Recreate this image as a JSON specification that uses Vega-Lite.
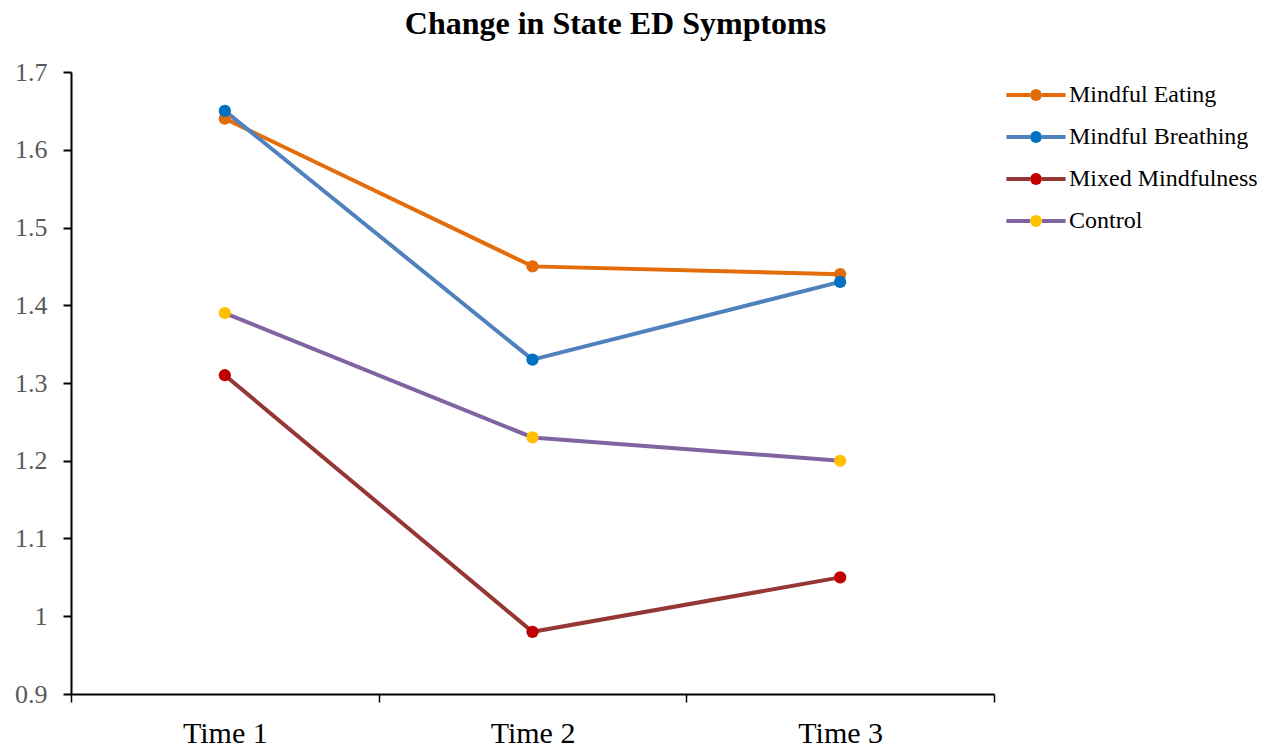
{
  "$schema": "https://vega.github.io/schema/vega-lite/v6.json",
  "width": 923,
  "height": 622,
  "autosize": "none",
  "padding": {"left": 71, "top": 72, "right": 267, "bottom": 58},
  "background": "white",
  "title": {
    "text": "Change in State ED Symptoms",
    "font": "Liberation Serif",
    "fontSize": 32,
    "fontWeight": "bold",
    "color": "black",
    "anchor": "middle",
    "frame": "group",
    "dx": 83,
    "offset": 18
  },
  "config": {
    "view": {"stroke": null},
    "font": "Liberation Serif"
  },
  "data": {
    "values": [
      {"group": "Mindful Eating", "time": "Time 1", "value": 1.64},
      {"group": "Mindful Eating", "time": "Time 2", "value": 1.45},
      {"group": "Mindful Eating", "time": "Time 3", "value": 1.44},
      {"group": "Mindful Breathing", "time": "Time 1", "value": 1.65},
      {"group": "Mindful Breathing", "time": "Time 2", "value": 1.33},
      {"group": "Mindful Breathing", "time": "Time 3", "value": 1.43},
      {"group": "Mixed Mindfulness", "time": "Time 1", "value": 1.31},
      {"group": "Mixed Mindfulness", "time": "Time 2", "value": 0.98},
      {"group": "Mixed Mindfulness", "time": "Time 3", "value": 1.05},
      {"group": "Control", "time": "Time 1", "value": 1.39},
      {"group": "Control", "time": "Time 2", "value": 1.23},
      {"group": "Control", "time": "Time 3", "value": 1.2}
    ]
  },
  "encoding": {
    "x": {
      "field": "time",
      "type": "nominal",
      "scale": {"type": "band", "paddingInner": 0, "paddingOuter": 0},
      "axis": {
        "title": null,
        "labelAngle": 0,
        "labelFont": "Liberation Serif",
        "labelFontSize": 30,
        "labelColor": "black",
        "labelPadding": 16,
        "tickBand": "extent",
        "tickSize": 8,
        "tickColor": "black",
        "tickWidth": 1.5,
        "domainColor": "black",
        "domainWidth": 2,
        "grid": false
      }
    },
    "y": {
      "field": "value",
      "type": "quantitative",
      "scale": {"domain": [0.9, 1.7], "nice": false, "zero": false},
      "axis": {
        "title": null,
        "values": [0.9, 1.0, 1.1, 1.2, 1.3, 1.4, 1.5, 1.6, 1.7],
        "labelExpr": "datum.value == 1 ? '1' : format(datum.value, '.1f')",
        "labelFont": "Liberation Serif",
        "labelFontSize": 26,
        "labelColor": "#595959",
        "labelPadding": 16,
        "tickSize": 8,
        "tickColor": "black",
        "tickWidth": 2,
        "domainColor": "black",
        "domainWidth": 2,
        "grid": false
      }
    }
  },
  "layer": [
    {
      "mark": {"type": "line", "strokeWidth": 4},
      "encoding": {
        "color": {
          "field": "group",
          "type": "nominal",
          "scale": {
            "domain": ["Mindful Eating", "Mindful Breathing", "Mixed Mindfulness", "Control"],
            "range": ["#E46C0A", "#4F81BD", "#953735", "#8064A2"]
          },
          "legend": {
            "title": null,
            "orient": "none",
            "legendX": 953,
            "legendY": 11,
            "padding": 0,
            "symbolType": "M-5,0H-1M1,0H5",
            "symbolSize": 140,
            "symbolStrokeWidth": 4,
            "labelFont": "Liberation Serif",
            "labelFontSize": 24,
            "labelColor": "black",
            "labelOffset": 21,
            "labelLimit": 400,
            "rowPadding": 18
          }
        }
      }
    },
    {
      "mark": {"type": "point", "filled": true, "opacity": 1, "size": 150},
      "encoding": {
        "fill": {
          "field": "group",
          "type": "nominal",
          "scale": {
            "domain": ["Mindful Eating", "Mindful Breathing", "Mixed Mindfulness", "Control"],
            "range": ["#E36C0A", "#0070C0", "#C00000", "#FFC000"]
          },
          "legend": {
            "title": null,
            "orient": "none",
            "legendX": 953,
            "legendY": 11,
            "padding": 0,
            "symbolType": "circle",
            "symbolSize": 140,
            "symbolOpacity": 1,
            "labelFont": "Liberation Serif",
            "labelFontSize": 24,
            "labelColor": "transparent",
            "labelOffset": 21,
            "labelLimit": 400,
            "rowPadding": 18
          }
        }
      }
    }
  ],
  "resolve": {"scale": {"color": "independent", "fill": "independent"}}
}
